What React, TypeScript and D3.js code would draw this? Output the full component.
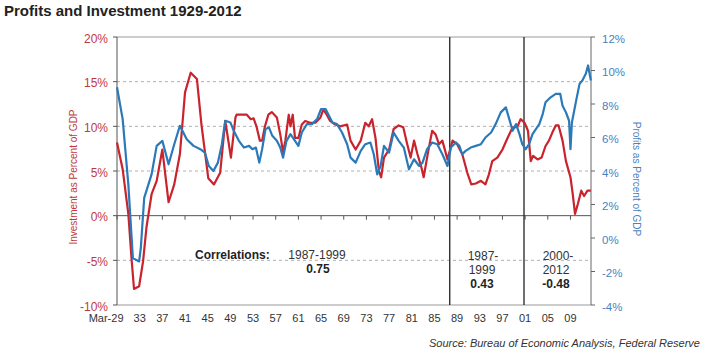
import React from 'react';
import * as d3 from 'd3';

const chartTitle = 'Profits and Investment 1929-2012';
const sourceNote = 'Source:  Bureau of Economic Analysis, Federal Reserve';
const leftAxisTitle = 'Investment as Percent of GDP';
const rightAxisTitle = 'Profits as Percent of GDP';

// Investment as % of GDP (left axis)
const investYears = [
  1929.0, 1930.0, 1931.0, 1931.6, 1932.0, 1932.9, 1933.6, 1934.2, 1935.1, 1936.0,
  1937.0, 1938.1, 1939.1, 1940.1, 1941.0, 1942.0, 1943.1, 1943.9, 1945.1, 1946.1,
  1947.2, 1948.1, 1949.1, 1949.9, 1950.1, 1951.9, 1952.6, 1953.1, 1953.6, 1954.2,
  1954.6, 1955.1, 1955.7, 1956.3, 1957.2, 1957.8, 1958.3, 1958.7, 1959.3, 1959.6,
  1960.0, 1960.4, 1961.0, 1961.6, 1962.2, 1963.1, 1964.0, 1964.9, 1965.4, 1966.0,
  1966.6, 1967.5, 1968.4, 1969.6, 1970.2, 1971.1, 1972.0, 1972.8, 1973.4, 1974.0,
  1974.6, 1975.2, 1975.6, 1976.1, 1977.0, 1977.8, 1978.7, 1979.5, 1980.2, 1980.8,
  1981.4, 1982.0, 1982.7, 1983.1, 1983.9, 1984.6, 1985.2, 1985.8, 1986.4, 1987.3,
  1988.2, 1989.0, 1989.9, 1990.8, 1991.5, 1992.3, 1993.2, 1994.0, 1994.6, 1995.2,
  1996.1, 1997.0, 1997.9, 1998.8, 1999.6, 2000.2, 2000.9, 2001.5, 2002.0, 2002.4,
  2003.2, 2003.9, 2004.6, 2005.2, 2005.8, 2006.4, 2006.9, 2007.6, 2008.2, 2009.0,
  2009.4, 2009.8, 2010.3, 2010.9, 2011.4, 2012.0, 2012.6,
];
const investValues = [
  8.2, 5.2, 0.2, -5.1, -8.2, -7.9, -5.1, -1.3, 2.4, 3.9,
  7.4, 1.5, 3.5, 6.9, 13.8, 16.0, 15.3, 10.2, 4.2, 3.5,
  4.8, 10.6, 6.5, 11.0, 11.3, 11.3, 10.8, 10.9, 10.0, 8.4,
  8.4, 10.0, 11.3, 11.6, 11.0, 9.1, 7.1, 8.4, 11.3, 10.0,
  11.3, 8.7, 8.7, 10.2, 10.6, 10.4, 10.4, 11.0, 11.9, 11.3,
  10.6, 10.2, 10.0, 10.2, 8.4, 7.4, 8.4, 10.4, 10.0, 10.8,
  8.7, 5.0, 4.3, 6.5, 7.4, 9.7, 10.1, 9.9, 8.0, 6.5,
  8.4, 6.9, 5.4, 4.3, 7.2, 9.5, 9.1, 8.0, 8.4, 6.3,
  8.4, 8.0, 6.9, 4.8, 3.5, 3.6, 3.9, 3.5, 4.6, 6.1,
  6.5, 7.4, 8.7, 9.9, 9.9, 10.8, 10.4, 9.5, 6.1, 6.7,
  6.3, 6.5, 7.8, 8.4, 9.3, 10.1, 10.1, 8.4, 6.1, 4.3,
  2.4, 0.2, 1.3, 2.8, 2.2, 2.8, 2.8,
];

// Profits as % of GDP (right axis)
const profitYears = [
  1929.0, 1930.0, 1931.0, 1931.8, 1932.9, 1933.2, 1933.8, 1935.1, 1936.0, 1937.0,
  1938.1, 1939.1, 1940.1, 1941.3, 1942.5, 1943.7, 1944.5, 1945.2, 1946.0, 1946.8,
  1947.5, 1948.1, 1949.0, 1949.6, 1950.5, 1951.4, 1952.3, 1952.9, 1953.5, 1954.1,
  1954.6, 1955.2, 1955.8, 1956.4, 1957.2, 1957.8, 1958.3, 1958.9, 1959.6, 1960.2,
  1961.0, 1961.6, 1962.5, 1963.4, 1964.3, 1965.0, 1965.8, 1966.4, 1967.0, 1967.8,
  1968.7, 1969.6, 1970.2, 1971.1, 1972.0, 1972.8, 1973.7, 1974.3, 1974.9, 1975.5,
  1976.1, 1977.0, 1977.8, 1978.7, 1979.6, 1980.5, 1981.4, 1982.3, 1982.9, 1983.7,
  1984.6, 1985.5, 1986.4, 1987.3, 1987.9, 1988.8, 1989.4, 1989.9, 1990.5, 1991.4,
  1992.3, 1993.2, 1994.0, 1995.0, 1995.8, 1996.7, 1997.6, 1998.2, 1998.8, 1999.4,
  2000.0, 2000.5, 2001.1, 2001.7, 2002.3, 2002.9, 2003.5, 2004.1, 2004.6, 2005.5,
  2006.4, 2007.2, 2007.6, 2008.2, 2008.75, 2009.0, 2009.25, 2010.0, 2010.6, 2011.1,
  2011.7, 2012.1, 2012.6,
];
const profitValues = [
  9.0, 7.1, 3.2, -1.2, -1.4, -0.6, 2.4, 3.8, 5.5, 5.8,
  4.4, 5.6, 6.7, 5.9, 5.5, 5.3, 5.1, 4.3, 4.0, 4.5,
  5.6, 7.0, 6.9, 6.4, 5.8, 5.4, 5.5, 5.3, 5.4, 4.5,
  5.3, 6.5, 6.6, 6.1, 5.8, 5.4, 4.8, 5.8, 6.2, 5.9,
  5.5, 6.3, 6.8, 6.8, 7.1, 7.7, 7.7, 7.3, 6.9, 6.8,
  6.3, 5.6, 4.8, 4.5, 5.2, 5.6, 5.7, 5.0, 3.8, 4.3,
  5.5, 5.1, 6.3, 5.8, 5.4, 4.1, 4.7, 4.3, 4.5, 5.3,
  5.7, 5.6, 5.0, 4.3, 5.4, 5.7, 5.5, 5.0, 5.2, 5.4,
  5.5, 5.6, 6.0, 6.3, 6.8, 7.5, 7.8, 7.1, 6.4, 6.8,
  6.2, 5.6, 5.3, 5.6, 6.2, 6.5, 6.8, 7.4, 8.1, 8.4,
  8.6, 8.6, 7.9, 7.5, 7.0, 5.3, 6.9, 8.2, 9.2, 9.4,
  9.8, 10.3, 9.4,
];

const leftTicks = [-10, -5, 0, 5, 10, 15, 20];
const leftGrid = [-5, 5, 10, 15];
const rightTicks = [-4, -2, 0, 2, 4, 6, 8, 10, 12];
const xTickYears = [1929, 1933, 1937, 1941, 1945, 1949, 1953, 1957, 1961, 1965, 1969, 1973, 1977, 1981, 1985, 1989, 1993, 1997, 2001, 2005, 2009];
const xTickLabels = ['Mar-29', '33', '37', '41', '45', '49', '53', '57', '61', '65', '69', '73', '77', '81', '85', '89', '93', '97', '01', '05', '09'];
const dividerYears = [1987.7, 2000.8];

const RED = '#c9232d';
const BLUE = '#2a79b9';
const RED_TEXT = '#c0393d';
const BLUE_TEXT = '#4a7fc0';

export default function App() {
  const W = 705;
  const H = 355;
  const left = 117;
  const right = 591;
  const top = 37;
  const bottom = 305;

  const x = d3.scaleLinear().domain([1929, 2012.62]).range([left, right]);
  const yL = d3.scaleLinear().domain([-10, 20]).range([bottom, top]);
  const yR = d3.scaleLinear().domain([-4, 12]).range([bottom, top]);

  const investLine = d3
    .line<number>()
    .x((_, i) => x(investYears[i]))
    .y((d) => yL(d));
  const profitLine = d3
    .line<number>()
    .x((_, i) => x(profitYears[i]))
    .y((d) => yR(d));

  const font = 'Arial, "Liberation Sans", Helvetica, sans-serif';
  const y0 = yL(0);

  return (
    <div style={{ position: 'absolute', left: 0, top: 0 }}>
      <svg width={W} height={H} style={{ display: 'block', background: '#fff' }} fontFamily={font}>
        <text x={4} y={16} fontSize={15} fontWeight="bold" fill="#222">
          {chartTitle}
        </text>

        {/* top & bottom frame */}
        <line x1={left} x2={right} y1={top} y2={top} stroke="#9a9a9a" strokeWidth={1} />
        <line x1={left} x2={right} y1={bottom} y2={bottom} stroke="#9a9a9a" strokeWidth={1} />

        {/* dashed grid */}
        {leftGrid.map((v) => (
          <line key={v} x1={left} x2={right} y1={yL(v)} y2={yL(v)} stroke="#b0b0b0" strokeWidth={1} strokeDasharray="3,3" />
        ))}

        {/* zero line */}
        <line x1={left} x2={right} y1={y0} y2={y0} stroke="#555" strokeWidth={1} />
        {xTickYears.map((yr) => (
          <line key={yr} x1={x(yr)} x2={x(yr)} y1={y0} y2={y0 + 4} stroke="#555" strokeWidth={1} />
        ))}

        {/* dividers */}
        {dividerYears.map((yr) => (
          <line key={yr} x1={x(yr)} x2={x(yr)} y1={top} y2={bottom} stroke="#222" strokeWidth={1.3} />
        ))}

        {/* left axis */}
        <line x1={left} x2={left} y1={top} y2={bottom} stroke="#555" strokeWidth={1} />
        {leftTicks.map((v) => (
          <g key={v}>
            <line x1={left - 4} x2={left} y1={yL(v)} y2={yL(v)} stroke="#555" />
            <text x={108} y={yL(v) + 1.5} dy="0.35em" textAnchor="end" fontSize={12} fill={RED_TEXT}>
              {`${v}%`}
            </text>
          </g>
        ))}

        {/* right axis */}
        <line x1={right} x2={right} y1={top} y2={bottom} stroke="#666" strokeWidth={1} />
        {rightTicks.map((v) => (
          <g key={v}>
            <line x1={right} x2={right + 4} y1={yR(v)} y2={yR(v)} stroke="#666" />
            <text x={602} y={yR(v) + 1.5} dy="0.35em" textAnchor="start" fontSize={11.5} fill={BLUE_TEXT}>
              {`${v}%`}
            </text>
          </g>
        ))}

        {/* axis titles */}
        <text
          transform={`translate(77,177) rotate(-90)`}
          textAnchor="middle"
          fontSize={10}
          fill={RED_TEXT}
        >
          {leftAxisTitle}
        </text>
        <text
          transform={`translate(633,179) rotate(90)`}
          textAnchor="middle"
          fontSize={10}
          fill={BLUE_TEXT}
        >
          {rightAxisTitle}
        </text>

        {/* x labels */}
        {xTickYears.map((yr, i) =>
          i === 0 ? (
            <text key={yr} x={x(yr) + 6.5} y={322} textAnchor="end" fontSize={11} fill="#333">
              {xTickLabels[i]}
            </text>
          ) : (
            <text key={yr} x={x(yr)} y={322} textAnchor="middle" fontSize={11} fill="#333">
              {xTickLabels[i]}
            </text>
          )
        )}

        {/* series */}
        <path d={investLine(investValues) || ''} fill="none" stroke={RED} strokeWidth={2.2} strokeLinejoin="round" />
        <path d={profitLine(profitValues) || ''} fill="none" stroke={BLUE} strokeWidth={2.2} strokeLinejoin="round" />

        {/* annotations */}
        <text x={195} y={259} fontSize={12} fontWeight="bold" fill="#222">Correlations:</text>
        <text x={317} y={259} fontSize={12} textAnchor="middle" fill="#333">1987-1999</text>
        <text x={318} y={273} fontSize={12} textAnchor="middle" fontWeight="bold" fill="#222">0.75</text>

        <text x={483} y={260} fontSize={12} textAnchor="middle" fill="#333">1987-</text>
        <text x={482} y={274} fontSize={12} textAnchor="middle" fill="#333">1999</text>
        <text x={482} y={288} fontSize={12} textAnchor="middle" fontWeight="bold" fill="#222">0.43</text>

        <text x={558} y={260} fontSize={12} textAnchor="middle" fill="#333">2000-</text>
        <text x={556} y={274} fontSize={12} textAnchor="middle" fill="#333">2012</text>
        <text x={556} y={288} fontSize={12} textAnchor="middle" fontWeight="bold" fill="#222">-0.48</text>

        <text x={700} y={347} fontSize={11} fontStyle="italic" textAnchor="end" fill="#333">
          {sourceNote}
        </text>
      </svg>
    </div>
  );
}
